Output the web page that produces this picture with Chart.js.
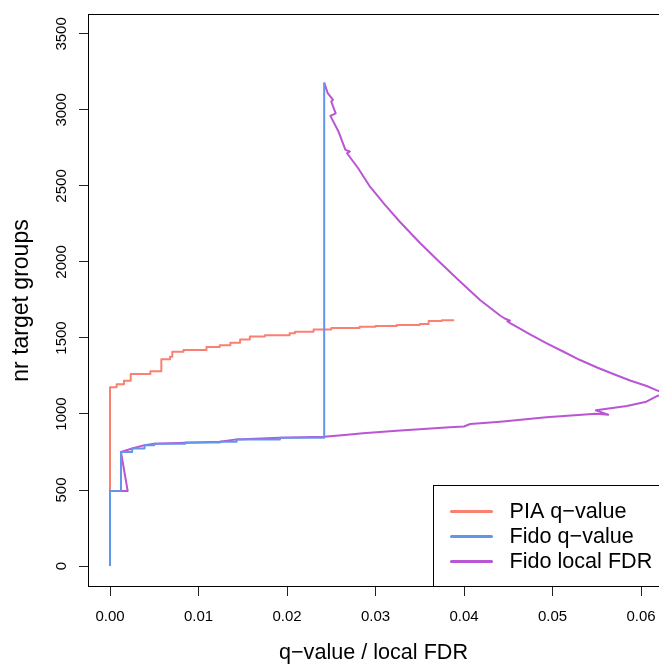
<!DOCTYPE html>
<html>
<head>
<meta charset="utf-8">
<script src="https://cdn.jsdelivr.net/npm/chart.js@4/dist/chart.umd.min.js"></script>
<style>
  body { margin: 0; background: #fff; }
  canvas { display: block; }
</style>
</head>
<body>
<canvas id="fdrChart" width="659" height="664"></canvas>
<script>
// Step corners (x = q-value / local FDR, y = nr target groups)
var piaX = [0, 0, 0.00075, 0.00158, 0.00234, 0.00456, 0.0058, 0.0058, 0.00678, 0.00704, 0.0083,
  0.0109, 0.0124, 0.0136, 0.0147, 0.0158, 0.0175, 0.0203, 0.0209, 0.0230, 0.0250, 0.0282,
  0.0300, 0.0324, 0.0350, 0.0360, 0.0375, 0.0388];
var piaY = [0, 1176, 1195, 1219, 1263, 1281, 1296, 1360, 1377, 1410, 1421,
  1440, 1452, 1469, 1490, 1510, 1518, 1531, 1541, 1555, 1565, 1574,
  1579, 1586, 1592, 1612, 1617, 1622];

var fidoQX = [0, 0, 0.00124, 0.0025, 0.0039, 0.005, 0.0085, 0.0124, 0.0143, 0.0192, 0.0242, 0.0242];
var fidoQY = [0, 493, 750, 773, 795, 805, 812, 818, 833, 844, 851, 3180];

// local FDR is drawn as a plain line, it folds back on itself
var fidoLfdrX = [0, 0, 0.0020, 0.00124, 0.0025, 0.0039, 0.005, 0.0124, 0.0143, 0.0192, 0.0242,
  0.0265, 0.0286, 0.0324, 0.0384, 0.0400, 0.0407, 0.0441, 0.0493, 0.0549, 0.0563, 0.0549,
  0.0584, 0.0606, 0.0618, 0.0628,
  0.0618, 0.06064, 0.05876, 0.05687, 0.05503, 0.05311, 0.05119, 0.04935, 0.04746, 0.04557,
  0.0452, 0.0449, 0.0452, 0.0446, 0.04407, 0.04181, 0.03955, 0.03729, 0.03503, 0.03277,
  0.03107, 0.02938, 0.02802, 0.02678, 0.0271, 0.0266, 0.0258, 0.0249, 0.0255, 0.0250,
  0.0252, 0.0246, 0.0242];
var fidoLfdrY = [0, 493, 493, 750, 773, 795, 805, 818, 833, 844, 851,
  862, 873, 890, 912, 918, 934, 949, 978, 1002, 995, 1024,
  1053, 1081, 1118, 1135,
  1155, 1184, 1220, 1263, 1306, 1355, 1411, 1465, 1523, 1586,
  1598, 1610, 1614, 1628, 1648, 1750, 1872, 1997, 2125, 2263,
  2375, 2495, 2618, 2715, 2727, 2737, 2860, 2961, 2978, 3055,
  3066, 3110, 3180];

var seriesNames = ['PIA q\u2212value', 'Fido q\u2212value', 'Fido local FDR'];
var seriesColors = ['#FA8072', '#6495ED', '#BA55D3'];

var xTicks = [0, 0.01, 0.02, 0.03, 0.04, 0.05, 0.06];
var yTicks = [0, 500, 1000, 1500, 2000, 2500, 3000, 3500];

var fontFamily = '"Liberation Sans", Arial, sans-serif';

function toPoints(xs, ys) {
  return xs.map(function (x, i) { return { x: x, y: ys[i] }; });
}

// R style box around the plot region
var boxPlugin = {
  id: 'plotBox',
  afterDatasetsDraw: function (chart) {
    var a = chart.chartArea;
    var ctx = chart.ctx;
    ctx.save();
    ctx.strokeStyle = '#000';
    ctx.lineWidth = 1;
    ctx.strokeRect(Math.round(a.left) + 0.5, Math.round(a.top) + 0.5,
      Math.round(a.right - a.left) + 2, Math.round(a.bottom - a.top) - 1);
    ctx.restore();
  }
};

// legend drawn in the bottom-right corner like legend("bottomright")
var legendPlugin = {
  id: 'cornerLegend',
  afterDraw: function (chart) {
    var a = chart.chartArea;
    var ctx = chart.ctx;
    var left = Math.round(a.right - 226) + 0.5;
    var top = Math.round(a.bottom - 102) + 0.5;
    ctx.save();
    ctx.fillStyle = '#fff';
    ctx.fillRect(left, top, 300, a.bottom - top);
    ctx.strokeStyle = '#000';
    ctx.lineWidth = 1;
    ctx.strokeRect(left, top, 300, a.bottom - top - 0.5);
    ctx.font = '21.6px ' + fontFamily;
    ctx.textBaseline = 'middle';
    ctx.textAlign = 'left';
    chart.data.datasets.forEach(function (ds, i) {
      var y = top + 26 + i * 25;
      ctx.strokeStyle = ds.borderColor;
      ctx.lineWidth = 3;
      ctx.lineCap = 'round';
      ctx.beginPath();
      ctx.moveTo(left + 18, y);
      ctx.lineTo(left + 58, y);
      ctx.stroke();
      ctx.fillStyle = '#000';
      ctx.fillText(ds.label, left + 76, y + 1);
    });
    ctx.restore();
  }
};

new Chart(document.getElementById('fdrChart'), {
  type: 'line',
  data: {
    datasets: [
      { label: seriesNames[0], data: toPoints(piaX, piaY), borderColor: seriesColors[0],
        stepped: 'before', order: 2 },
      { label: seriesNames[1], data: toPoints(fidoQX, fidoQY), borderColor: seriesColors[1],
        stepped: 'before', order: 0 },
      { label: seriesNames[2], data: toPoints(fidoLfdrX, fidoLfdrY), borderColor: seriesColors[2],
        order: 1 }
    ]
  },
  options: {
    responsive: false,
    animation: false,
    devicePixelRatio: 1,
    parsing: false,
    elements: {
      point: { radius: 0 },
      line: { borderWidth: 2, tension: 0, fill: false, borderJoinStyle: 'round' }
    },
    layout: { padding: { top: 14, right: 0, left: 0, bottom: 0 } },
    plugins: {
      legend: { display: false },
      tooltip: { enabled: false }
    },
    scales: {
      x: {
        type: 'linear',
        min: -0.002486,
        max: 0.06203,
        afterFit: function (scale) {
          scale.height = 77;
          scale.paddingLeft = 0;
          scale.paddingRight = 0;
        },
        afterBuildTicks: function (scale) {
          scale.ticks = xTicks.map(function (v) { return { value: v }; });
        },
        border: { display: false },
        grid: { drawOnChartArea: false, drawTicks: true, tickLength: 9, color: '#222' },
        ticks: {
          color: '#000',
          padding: 12,
          font: { family: fontFamily, size: 15 },
          maxRotation: 0,
          autoSkip: false,
          callback: function (v) { return v.toFixed(2); }
        },
        title: {
          display: true,
          text: 'q\u2212value / local FDR',
          color: '#000',
          font: { family: fontFamily, size: 21.6, lineHeight: 1 },
          padding: { top: 0, bottom: 0 }
        }
      },
      y: {
        type: 'linear',
        min: -138,
        max: 3631,
        afterFit: function (scale) {
          scale.width = 88;
          scale.paddingTop = 0;
          scale.paddingBottom = 0;
        },
        afterBuildTicks: function (scale) {
          scale.ticks = yTicks.map(function (v) { return { value: v }; });
        },
        border: { display: false },
        grid: { drawOnChartArea: false, drawTicks: true, tickLength: 9, color: '#222' },
        ticks: {
          color: '#000',
          padding: 0,
          crossAlign: 'center',
          minRotation: 90,
          maxRotation: 90,
          autoSkip: false,
          font: { family: fontFamily, size: 15 },
          callback: function (v) { return String(v); }
        },
        title: {
          display: true,
          text: 'nr target groups',
          color: '#000',
          font: { family: fontFamily, size: 23, lineHeight: 1 },
          padding: { top: 10.5, bottom: 0 }
        }
      }
    }
  },
  plugins: [boxPlugin, legendPlugin]
});
</script>
</body>
</html>
